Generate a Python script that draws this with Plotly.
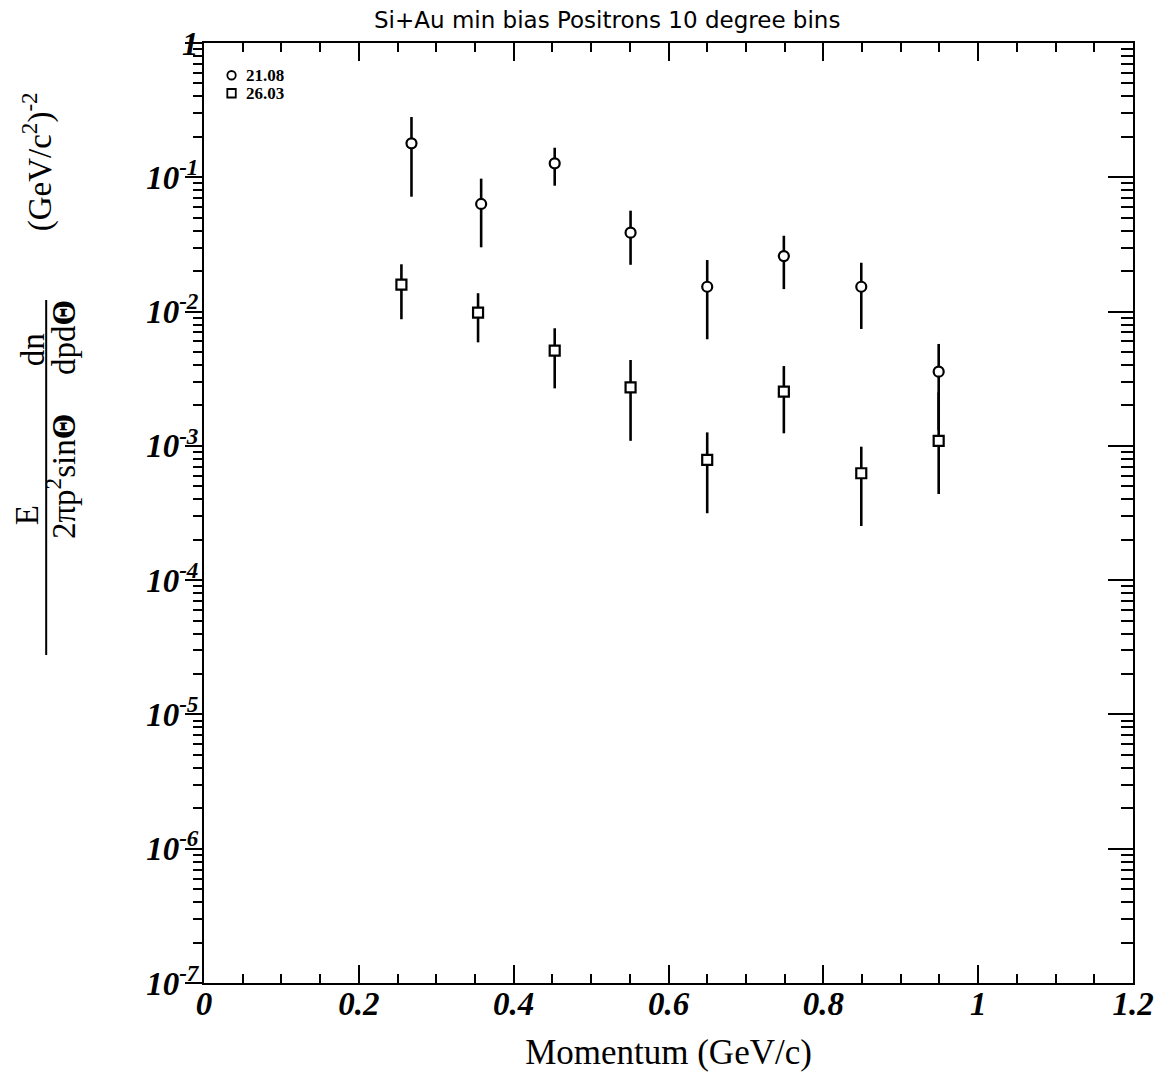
import plotly.graph_objects as go

# ---------------- data ----------------
x_circ = [0.268, 0.358, 0.453, 0.551, 0.650, 0.749, 0.849, 0.949]
y_circ = [0.179, 0.0633, 0.127, 0.0387, 0.0153, 0.0259, 0.0153, 0.00357]
hi_circ = [0.281, 0.0977, 0.166, 0.0564, 0.0242, 0.0367, 0.0231, 0.00574]
lo_circ = [0.0717, 0.0301, 0.0866, 0.0223, 0.00622, 0.0147, 0.00742, 0.00131]

x_sq = [0.255, 0.354, 0.453, 0.551, 0.650, 0.749, 0.849, 0.949]
y_sq = [0.0159, 0.00982, 0.00512, 0.00273, 0.000785, 0.00253, 0.000625, 0.00109]
hi_sq = [0.0225, 0.0137, 0.00751, 0.00436, 0.00126, 0.00393, 0.000986, 0.0025]
lo_sq = [0.00877, 0.0059, 0.00268, 0.00109, 0.000315, 0.00124, 0.000253, 0.000438]

series_names = ["21.08", "26.03"]
x_tickvals = [0, 0.2, 0.4, 0.6, 0.8, 1.0, 1.2]
x_ticktext = ["0", "0.2", "0.4", "0.6", "0.8", "1", "1.2"]
y_exponents = [-7, -6, -5, -4, -3, -2, -1, 0]

W, H = 1166, 1077
L, R, T, B = 204, 26, 43, 94
PW, PH = W - L - R, H - T - B


def px(x):
    return (x - L) / PW


def py(y):
    return (H - B - y) / PH


y_tickvals = [10.0 ** e for e in y_exponents]
y_ticktext = ["<b><i>1</i></b>" if e == 0 else f"<b><i>10<sup>{e}</sup></i></b>" for e in y_exponents]
y_minor = [m * 10.0 ** e for e in y_exponents[:-1] for m in range(2, 10)]

fig = go.Figure()


def errs(y, hi, lo):
    return [h - v for h, v in zip(hi, y)], [v - l for v, l in zip(y, lo)]


ep, em = errs(y_circ, hi_circ, lo_circ)
fig.add_trace(go.Scatter(
    x=x_circ, y=y_circ, mode="markers", name=series_names[0],
    marker=dict(symbol="circle", size=10, color="white", line=dict(color="black", width=2.2)),
    error_y=dict(type="data", array=ep, arrayminus=em, width=0, thickness=2.6, color="black"),
    showlegend=False,
))
ep, em = errs(y_sq, hi_sq, lo_sq)
fig.add_trace(go.Scatter(
    x=x_sq, y=y_sq, mode="markers", name=series_names[1],
    marker=dict(symbol="square", size=10, color="white", line=dict(color="black", width=2.2)),
    error_y=dict(type="data", array=ep, arrayminus=em, width=0, thickness=2.6, color="black"),
    showlegend=False,
))
# invisible trace to activate the right-hand mirror axis
fig.add_trace(go.Scatter(x=[0.5], y=[0.01], yaxis="y2", mode="markers",
                         marker=dict(opacity=0), showlegend=False, hoverinfo="skip"))

tickfont = dict(family="Liberation Serif", size=33, color="black")

fig.update_layout(
    width=W, height=H,
    margin=dict(l=L, r=R, t=T, b=B),
    paper_bgcolor="white", plot_bgcolor="white",
    showlegend=False,
    xaxis=dict(
        range=[0, 1.2], showgrid=False, zeroline=False,
        showline=True, linecolor="black", linewidth=2, mirror="ticks",
        tickmode="array", tickvals=x_tickvals, ticktext=[f"<b><i>{t}</i></b>" for t in x_ticktext],
        ticks="inside", ticklen=18, tickwidth=1.5, tickcolor="black",
        minor=dict(dtick=0.05, tick0=0, ticks="inside", ticklen=9, tickwidth=1.5, tickcolor="black"),
        tickfont=tickfont, ticklabelstandoff=-10,
        title=dict(text="Momentum (GeV/c)", font=dict(family="Liberation Serif", size=35, color="black"),
                   standoff=19),
    ),
    yaxis=dict(
        type="log", range=[-7, 0], showgrid=False, zeroline=False,
        showline=True, linecolor="black", linewidth=2,
        tickmode="array", tickvals=y_tickvals, ticktext=y_ticktext,
        ticks="outside", ticklen=17, tickwidth=1.5, tickcolor="black",
        minor=dict(tickmode="array", tickvals=y_minor, ticks="outside", ticklen=9, tickwidth=1.5,
                   tickcolor="black"),
        tickfont=tickfont, ticklabelstandoff=-20,
    ),
    yaxis2=dict(
        type="log", range=[-7, 0], overlaying="y", side="right", showgrid=False, zeroline=False,
        showline=True, linecolor="black", linewidth=2, showticklabels=False,
        tickmode="array", tickvals=y_tickvals,
        ticks="inside", ticklen=25, tickwidth=1.5, tickcolor="black",
        minor=dict(tickmode="array", tickvals=y_minor, ticks="inside", ticklen=12, tickwidth=1.5,
                   tickcolor="black"),
    ),
)


def ann(text, x, y, font, angle=0, xanchor="center"):
    fig.add_annotation(text=text, xref="paper", yref="paper", x=px(x), y=py(y),
                       xanchor=xanchor, yanchor="middle", textangle=angle,
                       showarrow=False, font=font)


# title
ann("Si+Au min bias Positrons 10 degree bins", 610, 20,
    dict(family="DejaVu Sans", size=23, color="black"))

# legend (symbols + labels)
fig.add_shape(type="circle", xref="paper", yref="paper",
              x0=px(227.5), x1=px(236), y0=py(79.5), y1=py(71), line=dict(color="black", width=1.8))
fig.add_shape(type="rect", xref="paper", yref="paper",
              x0=px(227.5), x1=px(236), y0=py(97.5), y1=py(89), line=dict(color="black", width=1.8))
for lab, yy in zip(series_names, [75, 93]):
    ann(f"<b>{lab}</b>", 244, yy, dict(family="Liberation Serif", size=17, color="black"),
        xanchor="left")

# y-axis title (rotated fraction)
yfont = dict(family="Liberation Serif", size=33, color="black")
ann("(GeV/c<sup>2</sup>)<sup>-2</sup>", 36, 162, yfont, -90)
ann("E", 26, 515, yfont, -90)
ann("2πp<sup>2</sup>sin<b>Θ</b>", 60, 477, yfont, -90)
ann("dn", 32, 350, yfont, -90)
ann("dpd<b>Θ</b>", 63, 338, yfont, -90)
fig.add_shape(type="line", xref="paper", yref="paper", x0=px(45), x1=px(45), y0=py(300), y1=py(655),
              line=dict(color="black", width=2))

fig.write_html("out.html")
